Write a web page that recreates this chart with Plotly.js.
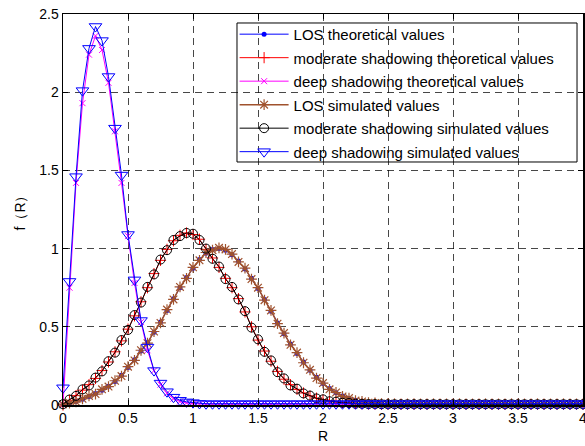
<!DOCTYPE html>
<html><head><meta charset="utf-8">
<script src="https://cdn.plot.ly/plotly-3.0.1.min.js"></script>
<style>html,body{margin:0;padding:0;background:#fff}#chart{width:585px;height:446px}</style>
</head><body><div id="chart"></div><script>
const R = [0,0.05,0.1,0.15,0.2,0.25,0.3,0.35,0.4,0.45,0.5,0.55,0.6,0.65,0.7,0.75,0.8,0.85,0.9,0.95,
 1,1.05,1.1,1.15,1.2,1.25,1.3,1.35,1.4,1.45,1.5,1.55,1.6,1.65,1.7,1.75,1.8,1.85,1.9,1.95,
 2,2.05,2.1,2.15,2.2,2.25,2.3,2.35,2.4,2.45,2.5,2.55,2.6,2.65,2.7,2.75,2.8,2.85,2.9,2.95,
 3,3.05,3.1,3.15,3.2,3.25,3.3,3.35,3.4,3.45,3.5,3.55,3.6,3.65,3.7,3.75,3.8,3.85,3.9,3.95,4];

const losTheo = [0,0.01,0.022,0.037,0.055,0.074,0.095,0.12,0.15,0.19,0.24,0.29,0.345,0.4,0.465,0.53,0.605,0.68,0.75,0.815,
 0.875,0.93,0.97,0.995,1.0,0.99,0.96,0.92,0.87,0.81,0.745,0.675,0.6,0.525,0.455,0.39,0.33,0.275,0.222,0.177,
 0.138,0.105,0.078,0.057,0.042,0.03,0.022,0.016,0.012,0.009,0.007,0.006,0.005,0.004,0.004,0.004,0.004,0.004,0.004,0.004,
 0.004,0.004,0.004,0.004,0.004,0.004,0.004,0.004,0.004,0.004,0.004,0.004,0.004,0.004,0.004,0.004,0.004,0.004,0.004,0.004,0.004];

const modTheo = [0,0.03,0.06,0.095,0.13,0.17,0.22,0.275,0.34,0.41,0.485,0.57,0.66,0.75,0.84,0.925,0.995,1.05,1.085,1.1,
 1.09,1.06,0.995,0.94,0.88,0.81,0.75,0.68,0.595,0.5,0.415,0.345,0.28,0.215,0.165,0.13,0.1,0.077,0.058,0.044,
 0.034,0.026,0.02,0.015,0.012,0.009,0.007,0.006,0.005,0.004,0.004,0.004,0.004,0.004,0.004,0.004,0.004,0.004,0.004,0.004,
 0.004,0.004,0.004,0.004,0.004,0.004,0.004,0.004,0.004,0.004,0.004,0.004,0.004,0.004,0.004,0.004,0.004,0.004,0.004,0.004,0.004];

const deepTheo = [0,0.75,1.42,1.93,2.24,2.36,2.27,2.06,1.75,1.42,1.08,0.78,0.53,0.35,0.22,0.13,0.075,0.04,0.022,0.013,
 0.009,0.006,0.006,0.006,0.006,0.006,0.006,0.006,0.006,0.006,0.006,0.006,0.006,0.006,0.006,0.006,0.006,0.006,0.006,0.006,
 0.006,0.006,0.006,0.006,0.006,0.006,0.006,0.006,0.006,0.006,0.006,0.006,0.006,0.006,0.006,0.006,0.006,0.006,0.006,0.006,
 0.006,0.006,0.006,0.006,0.006,0.006,0.006,0.006,0.006,0.006,0.006,0.006,0.006,0.006,0.006,0.006,0.006,0.006,0.006,0.006,0.006];

const losSim = [0.005,0.012,0.02,0.04,0.058,0.07,0.1,0.118,0.155,0.185,0.245,0.285,0.35,0.395,0.47,0.525,0.61,0.675,0.755,0.81,
 0.88,0.925,0.975,0.99,1.005,0.995,0.965,0.915,0.875,0.805,0.75,0.67,0.605,0.52,0.46,0.385,0.335,0.27,0.225,0.172,
 0.14,0.1,0.08,0.055,0.044,0.028,0.023,0.015,0.013,0.008,0.008,0.007,0.006,0.006,0.007,0.006,0.006,0.007,0.006,0.006,
 0.006,0.007,0.006,0.006,0.006,0.007,0.006,0.006,0.006,0.007,0.006,0.006,0.006,0.007,0.006,0.006,0.006,0.007,0.006,0.006,0.006];

const modSim = [0.005,0.035,0.058,0.1,0.125,0.175,0.215,0.28,0.335,0.415,0.48,0.575,0.655,0.755,0.835,0.93,0.99,1.055,1.08,1.1,
 1.095,1.055,1.0,0.935,0.885,0.805,0.755,0.675,0.6,0.495,0.42,0.34,0.285,0.21,0.17,0.125,0.104,0.074,0.06,0.042,
 0.036,0.024,0.021,0.014,0.013,0.008,0.008,0.006,0.006,0.005,0.005,0.005,0.005,0.005,0.005,0.005,0.005,0.005,0.005,0.005,
 0.005,0.005,0.005,0.005,0.005,0.005,0.005,0.005,0.005,0.005,0.005,0.005,0.005,0.005,0.005,0.005,0.005,0.005,0.005,0.005,0.005];

const deepSim = [0.11,0.79,1.46,2.01,2.28,2.42,2.33,2.1,1.77,1.47,1.09,0.8,0.54,0.37,0.22,0.14,0.085,0.05,0.03,0.02,
 0.015,0.01,0.008,0.008,0.008,0.008,0.008,0.008,0.008,0.008,0.008,0.008,0.008,0.008,0.008,0.008,0.008,0.008,0.008,0.008,
 0.008,0.008,0.008,0.008,0.008,0.008,0.008,0.008,0.008,0.008,0.008,0.008,0.008,0.008,0.008,0.008,0.008,0.008,0.008,0.008,
 0.008,0.008,0.008,0.008,0.008,0.008,0.008,0.008,0.008,0.008,0.008,0.008,0.008,0.008,0.008,0.008,0.008,0.008,0.008,0.008,0.008];

const names = ['LOS theoretical values','moderate shadowing theoretical values','deep shadowing theoretical values',
 'LOS simulated values','moderate shadowing simulated values','deep shadowing simulated values'];
const xTicks = [0,0.5,1,1.5,2,2.5,3,3.5,4];
const yTicks = [0,0.5,1,1.5,2,2.5];

const series = [losTheo, modTheo, deepTheo, losSim, modSim, deepSim];
const styles = [
 {color:'#0000ff', lw:1, sym:'circle', size:5, mlw:0},
 {color:'#ff0000', lw:1, sym:'cross-thin-open', size:8, mlw:1},
 {color:'#ff00ff', lw:1, sym:'x-thin-open', size:6, mlw:1},
 {color:'#a0522d', lw:1.5, sym:'asterisk-open', size:9, mlw:1.2},
 {color:'#000000', lw:1, sym:'circle-open', size:9, mlw:1},
 {color:'#0000ff', lw:1, sym:'triangle-down-open', size:11, mlw:1}
];
const traces = series.map((y,i)=>({
 x:R, y:y, type:'scatter', mode:'lines+markers', name:names[i], legendgroup:'g'+i,
 line:{color:styles[i].color, width:styles[i].lw},
 marker:{symbol:styles[i].sym, size:styles[i].size, color:styles[i].color, line:{color:styles[i].color, width:styles[i].mlw}},
 cliponaxis:false
}));

const font = {family:'"Liberation Sans", Arial, sans-serif', size:14, color:'#000'};
const axisCommon = {
 showline:true, linecolor:'#000', linewidth:1.5, mirror:'ticks', ticks:'inside', ticklen:5, tickcolor:'#000',
 showgrid:true, gridcolor:'rgba(0,0,0,0.72)', griddash:'7px,5px', gridwidth:1, zeroline:false,
 tickfont:{family:font.family, size:14, color:'#000'}, ticklabeloverflow:'allow', automargin:false
};
const layout = {
 width:585, height:446, margin:{l:63, r:2, t:14, b:41},
 paper_bgcolor:'#fff', plot_bgcolor:'#fff', font:font, showlegend:true,
 xaxis:Object.assign({}, axisCommon, {range:[0,4], tickvals:xTicks, ticktext:xTicks.map(String),
   title:{text:'R', font:{family:font.family, size:14}, standoff:6}}),
 yaxis:Object.assign({}, axisCommon, {range:[0,2.5], tickvals:yTicks, ticktext:yTicks.map(String),
   title:{text:'f（R）', font:{family:font.family, size:14}, standoff:10}}),
 legend:{x:0.33, y:0.99, xanchor:'left', yanchor:'top', bgcolor:'rgba(0,0,0,0)', borderwidth:0,
   font:{family:font.family, size:15, color:'#000'}, traceorder:'grouped', tracegroupgap:1, itemwidth:49},
 shapes:[{type:'rect', xref:'paper', yref:'paper', x0:0.3346, x1:0.9885, y0:0.6215, y1:0.977,
   fillcolor:'#fff', line:{color:'#000', width:1}, layer:'between'}]
};
Plotly.newPlot('chart', traces, layout, {staticPlot:true, displayModeBar:false});
</script></body></html>
